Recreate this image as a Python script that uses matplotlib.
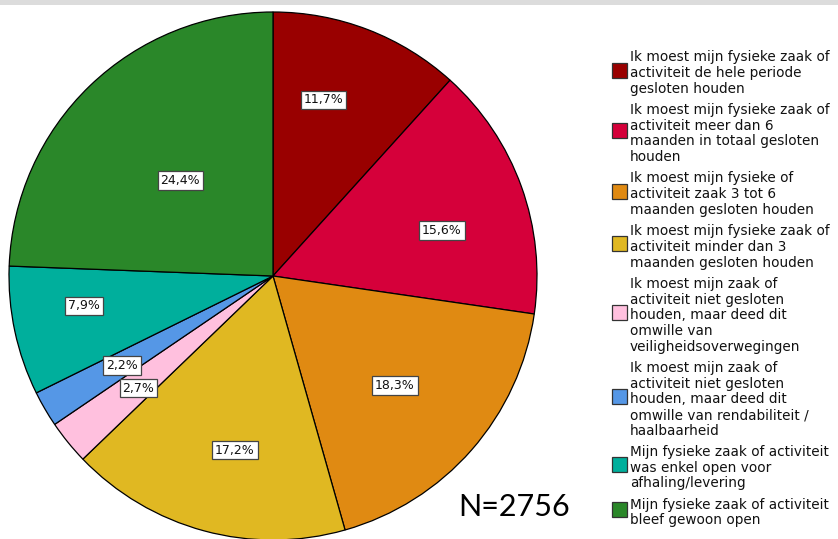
import numpy as np
import matplotlib
matplotlib.use("Agg")
import matplotlib.pyplot as plt
from matplotlib.patches import Rectangle

# data, clockwise from 12 o'clock
labels = [
    "Ik moest mijn fysieke zaak of\nactiviteit de hele periode\ngesloten houden",
    "Ik moest mijn fysieke zaak of\nactiviteit meer dan 6\nmaanden in totaal gesloten\nhouden",
    "Ik moest mijn fysieke of\nactiviteit zaak 3 tot 6\nmaanden gesloten houden",
    "Ik moest mijn fysieke zaak of\nactiviteit minder dan 3\nmaanden gesloten houden",
    "Ik moest mijn zaak of\nactiviteit niet gesloten\nhouden, maar deed dit\nomwille van\nveiligheidsoverwegingen",
    "Ik moest mijn zaak of\nactiviteit niet gesloten\nhouden, maar deed dit\nomwille van rendabiliteit /\nhaalbaarheid",
    "Mijn fysieke zaak of activiteit\nwas enkel open voor\nafhaling/levering",
    "Mijn fysieke zaak of activiteit\nbleef gewoon open",
]
pcts = [11.7, 15.6, 18.3, 17.2, 2.7, 2.2, 7.9, 24.4]
colors = ["#990000", "#D5003A", "#E08A12", "#E0B822", "#FFC0DE",
          "#5597E6", "#00AF9C", "#2A8729"]
# label placement (radius fraction, angle nudge in degrees)
label_r = [0.694, 0.663, 0.621, 0.675, 0.664, 0.665, 0.725, 0.504]
label_da = [5.0, -4.7, -0.7, 2.8, 0.7, 0.5, -3.1, 0.2]
n_total = 2756

W, H = 838, 539
fig = plt.figure(figsize=(W / 100, H / 100), dpi=100)

# grey strip along the top
fig.patches.append(Rectangle((0, 1 - 5 / H), 1, 5 / H, transform=fig.transFigure,
                             facecolor="#DCDCDC", edgecolor="none"))

cx, cy, R = 273, 276, 264
ax = fig.add_axes([(cx - R) / W, (H - cy - R) / H, 2 * R / W, 2 * R / H])
wedges, _ = ax.pie(pcts, colors=colors, startangle=90, counterclock=False, radius=1,
                   wedgeprops=dict(edgecolor="black", linewidth=0.9))
ax.set_xlim(-1, 1)
ax.set_ylim(-1, 1)
ax.set_aspect("equal")
ax.axis("off")

for w, p, r, da in zip(wedges, pcts, label_r, label_da):
    mid = np.deg2rad((w.theta1 + w.theta2) / 2 + da)
    ax.text(r * np.cos(mid), r * np.sin(mid), f"{p:.1f}%".replace(".", ","),
            ha="center", va="center", fontsize=9, family="DejaVu Sans", color="#111111",
            bbox=dict(boxstyle="square,pad=0.22", facecolor="white",
                      edgecolor="#444444", linewidth=0.9))

# legend drawn by hand
line_h = 15.7
gap = 5.6
y = 49.5
for lab, c in zip(labels, colors):
    lines = lab.split("\n")
    top = y
    for ln in lines:
        fig.text(630 / W, 1 - (y + line_h / 2) / H, ln, ha="left", va="center",
                 fontsize=9.8, family="DejaVu Sans", color="#111111")
        y += line_h
    mid = (top + y) / 2 - 3
    fig.patches.append(Rectangle((612 / W, 1 - (mid + 7.5) / H), 15 / W, 15 / H,
                                 transform=fig.transFigure, facecolor=c,
                                 edgecolor="#333333", linewidth=0.9))
    y += gap

fig.text(514 / W, 1 - 507 / H, f"N={n_total}", ha="center", va="center",
         fontsize=22, family="Lato", color="black")

fig.savefig("out.png", dpi=100)
